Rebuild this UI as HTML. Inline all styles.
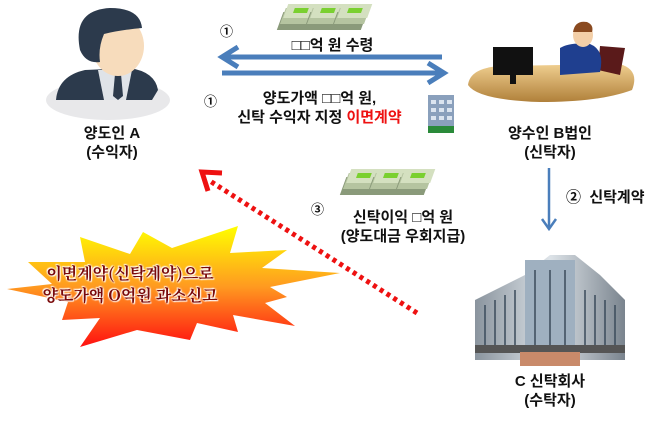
<!DOCTYPE html>
<html><head><meta charset="utf-8"><style>
body{margin:0;width:670px;height:421px;background:#fff;position:relative;overflow:hidden;font-family:"Liberation Sans","Noto Sans CJK KR",sans-serif;}
.t{position:absolute;font-weight:bold;font-size:15px;color:#111;text-align:center;line-height:19px;white-space:nowrap}
</style></head><body>
<svg width="670" height="421" style="position:absolute;left:0;top:0">
<defs>
<linearGradient id="burst" x1="0" y1="0" x2="0" y2="1"><stop offset="0" stop-color="#ffff00"/><stop offset="0.5" stop-color="#ff9a20"/><stop offset="1" stop-color="#ff1010"/></linearGradient>
<linearGradient id="desk" x1="0" y1="0" x2="0" y2="1"><stop offset="0" stop-color="#f0cf90"/><stop offset="1" stop-color="#b0803a"/></linearGradient>
<linearGradient id="bld" x1="0" y1="0" x2="1" y2="0"><stop offset="0" stop-color="#8a949e"/><stop offset="0.5" stop-color="#dde3e8"/><stop offset="1" stop-color="#7a848e"/></linearGradient>
<g id="money"><rect x="2" y="10" width="30" height="18" fill="#8a9a7a" transform="skewX(-20)"/><rect x="3" y="6" width="30" height="16" fill="#b5c4a0" transform="skewX(-20)"/><rect x="4" y="2" width="30" height="14" fill="#d4e0c0" transform="skewX(-20)"/><rect x="12" y="6" width="14" height="5" fill="#7ad030" transform="skewX(-20)"/></g>
</defs>
<!-- person A -->
<ellipse cx="108" cy="100" rx="62" ry="20" fill="#e8e8ea"/>
<path d="M56 100 Q58 76 85 70 L130 68 Q155 72 158 90 L152 100 Z" fill="#2c3a4c"/>
<path d="M98 70 L132 70 L126 100 L104 100 Z" fill="#dfe3e8"/>
<path d="M115 74 L121 74 L123 96 L118 100 L113 96 Z" fill="#2c3a4c"/>
<ellipse cx="118" cy="46" rx="26" ry="30" fill="#f7dcbc"/>
<path d="M80 50 Q72 10 110 8 Q140 8 142 28 Q120 30 104 34 Q98 48 100 62 Q86 64 80 50 Z" fill="#2c3a4c"/>
<!-- B at desk -->
<path d="M468 85 Q470 68 500 66 L620 64 Q640 70 632 90 Q600 102 540 102 Q478 100 468 85 Z" fill="url(#desk)"/>
<rect x="493" y="47" width="40" height="28" fill="#111"/><rect x="510" y="74" width="6" height="10" fill="#111"/>
<path d="M600 46 L625 48 L620 75 L598 70 Z" fill="#5a1a1a"/>
<path d="M560 48 Q570 42 590 44 Q605 50 600 72 L560 75 Z" fill="#1f3f8f"/>
<ellipse cx="583" cy="35" rx="10" ry="12" fill="#f3cfa8"/>
<path d="M573 32 Q575 20 587 22 Q594 25 592 32 Z" fill="#8a4a20"/>
<!-- building C -->
<polygon points="475,300 525,275 550,255 575,255 600,275 625,300 625,360 475,360" fill="url(#bld)"/>
<rect x="525" y="260" width="50" height="100" fill="#9fb0c0"/>
<g stroke="#3a4a5a" stroke-width="1.5">
<line x1="485" y1="305" x2="485" y2="345"/><line x1="495" y1="300" x2="495" y2="345"/><line x1="505" y1="295" x2="505" y2="345"/><line x1="515" y1="290" x2="515" y2="345"/>
<line x1="535" y1="270" x2="535" y2="345"/><line x1="550" y1="270" x2="550" y2="345"/><line x1="565" y1="270" x2="565" y2="345"/>
<line x1="585" y1="290" x2="585" y2="345"/><line x1="595" y1="295" x2="595" y2="345"/><line x1="605" y1="300" x2="605" y2="345"/><line x1="615" y1="305" x2="615" y2="345"/>
</g>
<rect x="475" y="345" width="150" height="8" fill="#555"/>
<rect x="520" y="352" width="60" height="14" fill="#c98a6a"/>
<!-- small office building -->
<rect x="428" y="95" width="26" height="38" fill="#8aa0bc"/>
<g fill="#dbe4ef"><rect x="431" y="100" width="5" height="4"/><rect x="439" y="100" width="5" height="4"/><rect x="447" y="100" width="5" height="4"/><rect x="431" y="108" width="5" height="4"/><rect x="439" y="108" width="5" height="4"/><rect x="447" y="108" width="5" height="4"/><rect x="431" y="116" width="5" height="4"/><rect x="439" y="116" width="5" height="4"/><rect x="447" y="116" width="5" height="4"/></g>
<rect x="428" y="126" width="26" height="7" fill="#2a8a3a"/>
<!-- money -->
<use href="#money" x="285" y="2"/><use href="#money" x="312" y="2"/><use href="#money" x="339" y="2"/>
<use href="#money" x="348" y="167"/><use href="#money" x="375" y="167"/><use href="#money" x="402" y="167"/>
<!-- blue arrows -->
<g stroke="#4a7ebb" stroke-width="5" fill="none">
<line x1="442" y1="57" x2="225" y2="57"/><polyline points="238,47 222,57 238,67"/>
<line x1="222" y1="73" x2="440" y2="73"/><polyline points="428,63 444,73 428,83"/>
</g>
<g stroke="#4a7ebb" stroke-width="2.5" fill="none">
<line x1="549" y1="168" x2="549" y2="228"/><polyline points="542,219 549,229 556,219"/>
</g>
<!-- red dotted -->
<line x1="417" y1="313" x2="210" y2="181" stroke="#ee1111" stroke-width="5" stroke-dasharray="4,4"/>
<polyline points="222,173 202,172 208,191" fill="none" stroke="#ee1111" stroke-width="5"/>
<!-- burst -->
<polygon points="7,289 52,284 28,262 85,262 80,237 130,254 143,232 172,248 238,226 230,253 287,250 262,268 340,273 270,287 287,297 265,303 295,326 233,315 238,332 197,323 190,340 137,330 80,347 100,318 62,320 68,302" fill="url(#burst)"/>
</svg>
<div class="t" style="left:220px;top:22px;font-size:13px">①</div>
<div class="t" style="left:275px;top:36px;width:115px">□□억 원 수령</div>
<div class="t" style="left:204px;top:92px;font-size:13px">①</div>
<div class="t" style="left:212px;top:89px;width:215px">양도가액 □□억 원,<br>신탁 수익자 지정 <span style="color:#ee1111">이면계약</span></div>
<div class="t" style="left:52px;top:124px;width:120px">양도인 A<br>(수익자)</div>
<div class="t" style="left:490px;top:124px;width:120px">양수인 B법인<br>(신탁자)</div>
<div class="t" style="left:566px;top:188px;">②&nbsp; 신탁계약</div>
<div class="t" style="left:311px;top:200px;font-size:13px">③</div>
<div class="t" style="left:318px;top:208px;width:170px">신탁이익 □억 원<br>(양도대금 우회지급)</div>
<div class="t" style="left:490px;top:372px;width:120px">C 신탁회사<br>(수탁자)</div>
<div class="t" style="left:30px;top:262px;width:200px;font-family:'Noto Serif CJK SC','Liberation Serif',serif;font-size:16px;line-height:22px;color:#7a0a0a;text-shadow:0 0 2px #fff,0 0 2px #fff,1px 1px 1px #fff,-1px -1px 1px #fff">이면계약(신탁계약)으로<br>양도가액 O억원 과소신고</div>
</body></html>
